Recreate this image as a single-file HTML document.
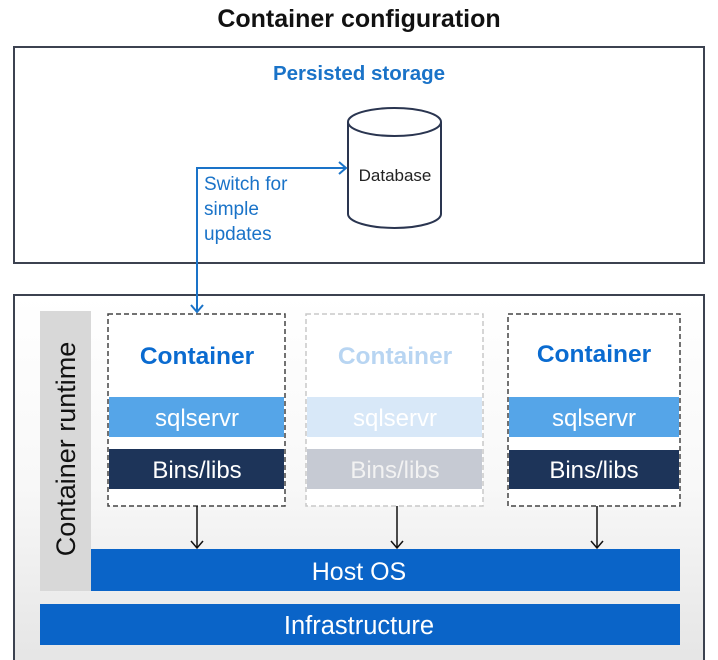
<!DOCTYPE html>
<html><head><meta charset="utf-8"><style>
html,body{margin:0;padding:0;background:#fff;}
svg{display:block;font-family:"Liberation Sans",sans-serif;}
</style></head><body>
<svg width="718" height="660" viewBox="0 0 718 660" xmlns="http://www.w3.org/2000/svg">
<defs>
<linearGradient id="bg" x1="0" y1="0" x2="0" y2="1">
<stop offset="0" stop-color="#ffffff"/><stop offset="0.5" stop-color="#f8f8f8"/><stop offset="1" stop-color="#e4e4e4"/>
</linearGradient>
</defs>
<rect width="718" height="660" fill="#fff"/>
<text x="359" y="27" text-anchor="middle" font-size="25" font-weight="bold" fill="#111">Container configuration</text>
<rect x="14" y="47" width="690" height="216" fill="#fff" stroke="#3c4250" stroke-width="2"/>
<text x="359" y="80" text-anchor="middle" font-size="20.5" font-weight="bold" fill="#1a73c8">Persisted storage</text>
<path d="M348,122 L348,214 A46.5,14 0 0 0 441,214 L441,122" fill="#fff" stroke="#2a3550" stroke-width="2"/>
<ellipse cx="394.5" cy="122" rx="46.5" ry="14" fill="#fff" stroke="#2a3550" stroke-width="2"/>
<text x="395" y="181" text-anchor="middle" font-size="17" fill="#222">Database</text>
<g font-size="19" fill="#1a73c8">
<text x="204" y="190">Switch for</text>
<text x="204" y="215">simple</text>
<text x="204" y="240">updates</text>
</g>
<rect x="14" y="295" width="690" height="380" fill="url(#bg)" stroke="#3c4250" stroke-width="2"/>
<polyline points="346,168 197,168 197,312" fill="none" stroke="#1a73c8" stroke-width="2"/>
<polyline points="339,162 346,168 339,174" fill="none" stroke="#1a73c8" stroke-width="2"/>
<polyline points="191,305 197,312 203,305" fill="none" stroke="#1a73c8" stroke-width="2"/>
<rect x="40" y="311" width="51" height="280" fill="#d8d8d8"/>
<text transform="translate(75,449) rotate(-90)" text-anchor="middle" font-size="27" fill="#111">Container runtime</text>
<rect x="108" y="314" width="177" height="192" fill="#fff" stroke="#444" stroke-width="1.5" stroke-dasharray="5,3"/>
<text x="197" y="364" text-anchor="middle" font-size="24.5" font-weight="bold" fill="#0a6bd0">Container</text>
<rect x="109" y="397" width="175" height="40" fill="#55a5e8"/>
<text x="197" y="426" text-anchor="middle" font-size="24" fill="#fff">sqlservr</text>
<rect x="109" y="449" width="175" height="40" fill="#1d3459"/>
<text x="197" y="478" text-anchor="middle" font-size="24" fill="#fff">Bins/libs</text>
<rect x="306" y="314" width="177" height="192" fill="#fff" stroke="#c8c8c8" stroke-width="1.5" stroke-dasharray="5,3"/>
<text x="395" y="364" text-anchor="middle" font-size="24.5" font-weight="bold" fill="#b8d5f2">Container</text>
<rect x="307" y="397" width="175" height="40" fill="#d8e8f8"/>
<text x="395" y="426" text-anchor="middle" font-size="24" fill="#fff">sqlservr</text>
<rect x="307" y="449" width="175" height="40" fill="#c6cad3"/>
<text x="395" y="478" text-anchor="middle" font-size="24" fill="#f2f2f2">Bins/libs</text>
<rect x="508" y="314" width="172" height="192" fill="#fff" stroke="#444" stroke-width="1.5" stroke-dasharray="5,3"/>
<text x="594" y="362" text-anchor="middle" font-size="24.5" font-weight="bold" fill="#0a6bd0">Container</text>
<rect x="509" y="397" width="170" height="40" fill="#55a5e8"/>
<text x="594" y="426" text-anchor="middle" font-size="24" fill="#fff">sqlservr</text>
<rect x="509" y="450" width="170" height="39" fill="#1d3459"/>
<text x="594" y="478" text-anchor="middle" font-size="24" fill="#fff">Bins/libs</text>
<g stroke="#111" stroke-width="1.5" fill="none">
<line x1="197" y1="506" x2="197" y2="548"/><polyline points="191,541 197,548 203,541"/>
<line x1="397" y1="506" x2="397" y2="548"/><polyline points="391,541 397,548 403,541"/>
<line x1="597" y1="506" x2="597" y2="548"/><polyline points="591,541 597,548 603,541"/>
</g>
<rect x="91" y="549" width="589" height="42" fill="#0a64c8"/>
<text x="359" y="580" text-anchor="middle" font-size="25" fill="#fff">Host OS</text>
<rect x="40" y="604" width="640" height="41" fill="#0a64c8"/>
<text x="359" y="634" text-anchor="middle" font-size="25.5" fill="#fff">Infrastructure</text>
</svg>
</body></html>
